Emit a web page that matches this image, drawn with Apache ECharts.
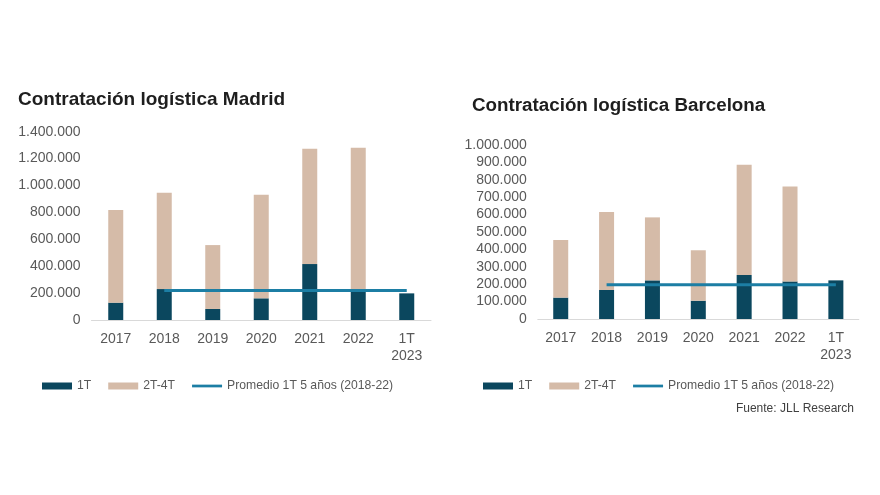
<!DOCTYPE html>
<html>
<head>
<meta charset="utf-8">
<script src="https://cdn.jsdelivr.net/npm/echarts@6/dist/echarts.min.js"></script>
<style>
html,body{margin:0;padding:0;background:#fff;}
#c{width:880px;height:495px;}
</style>
</head>
<body>
<div id="c"></div>
<script>
var categories = ['2017', '2018', '2019', '2020', '2021', '2022', '1T\n2023'];
var madrid1T = [129000, 230000, 82000, 161000, 416000, 211000, 198000];
var madrid2T4T = [689000, 716000, 475000, 771000, 858000, 1070000, null];
var madridAvg = [null, 220000, 220000, 220000, 220000, 220000, 220000];
var bcn1T = [123000, 167000, 222000, 105000, 253000, 216000, 222000];
var bcn2T4T = [331000, 448000, 362000, 290000, 634000, 546000, null];
var bcnAvg = [null, 197000, 197000, 197000, 197000, 197000, 197000];
var names = ['1T', '2T-4T', 'Promedio 1T 5 años (2018-22)'];

var C_DARK = '#0b475e', C_TAN = '#d5bba8', C_LINE = '#1c7ea4';
var FONT = "'Liberation Sans', Arial, sans-serif";

function fmt(v) {
  return String(v).replace(/\B(?=(\d{3})+(?!\d))/g, '.');
}

function xAxis(gi) {
  return {
    type: 'category', gridIndex: gi, data: categories,
    axisLine: {lineStyle: {color: '#d9d9d9', width: 1}},
    axisTick: {show: false},
    axisLabel: {color: '#595959', fontSize: 14, fontFamily: FONT, margin: 11, lineHeight: 17, interval: 0}
  };
}
function yAxis(gi, max, interval) {
  return {
    type: 'value', gridIndex: gi, min: 0, max: max, interval: interval,
    axisLine: {show: false}, axisTick: {show: false}, splitLine: {show: false},
    axisLabel: {color: '#595959', fontSize: 14, fontFamily: FONT, margin: 11, formatter: fmt}
  };
}
function legend(left) {
  return {
    left: left, top: 375, itemWidth: 30, itemHeight: 7, itemGap: 17,
    textStyle: {color: '#595959', fontSize: 12.2, fontFamily: FONT},
    data: [
      {name: names[0], icon: 'rect'},
      {name: names[1], icon: 'rect'},
      {name: names[2], icon: 'path://M0 0H33V3H0Z', itemStyle: {color: C_LINE}}
    ]
  };
}

var chart = echarts.init(document.getElementById('c'), null, {renderer: 'canvas'});
chart.setOption({
  backgroundColor: '#ffffff',
  animation: false,
  title: [
    {text: 'Contratación logística Madrid', left: 13, top: 85,
     textStyle: {color: '#1e1e1e', fontSize: 19, fontWeight: 'bold', fontFamily: FONT}},
    {text: 'Contratación logística Barcelona', left: 467, top: 91,
     textStyle: {color: '#1e1e1e', fontSize: 18.8, fontWeight: 'bold', fontFamily: FONT}},
    {text: 'Fuente: JLL Research', right: 21, top: 398,
     textStyle: {color: '#404040', fontSize: 12, fontWeight: 'normal', fontFamily: FONT}}
  ],
  legend: [legend(37), legend(478)],
  grid: [
    {left: 91.5, top: 131.7, width: 339.5, height: 188.3},
    {left: 537.8, top: 145, width: 321, height: 174}
  ],
  xAxis: [xAxis(0), xAxis(1)],
  yAxis: [yAxis(0, 1400000, 200000), yAxis(1, 1000000, 100000)],
  series: [
    {name: names[0], type: 'bar', xAxisIndex: 0, yAxisIndex: 0, stack: 'm', barWidth: 15, data: madrid1T, itemStyle: {color: C_DARK}},
    {name: names[1], type: 'bar', xAxisIndex: 0, yAxisIndex: 0, stack: 'm', barWidth: 15, data: madrid2T4T, itemStyle: {color: C_TAN}},
    {name: names[2], type: 'line', xAxisIndex: 0, yAxisIndex: 0, data: madridAvg, symbol: 'none', z: 5,
     lineStyle: {color: C_LINE, width: 3}, itemStyle: {color: C_LINE}},
    {name: names[0], type: 'bar', xAxisIndex: 1, yAxisIndex: 1, stack: 'b', barWidth: 15, data: bcn1T, itemStyle: {color: C_DARK}},
    {name: names[1], type: 'bar', xAxisIndex: 1, yAxisIndex: 1, stack: 'b', barWidth: 15, data: bcn2T4T, itemStyle: {color: C_TAN}},
    {name: names[2], type: 'line', xAxisIndex: 1, yAxisIndex: 1, data: bcnAvg, symbol: 'none', z: 5,
     lineStyle: {color: C_LINE, width: 3}, itemStyle: {color: C_LINE}}
  ]
});
</script>
</body>
</html>
